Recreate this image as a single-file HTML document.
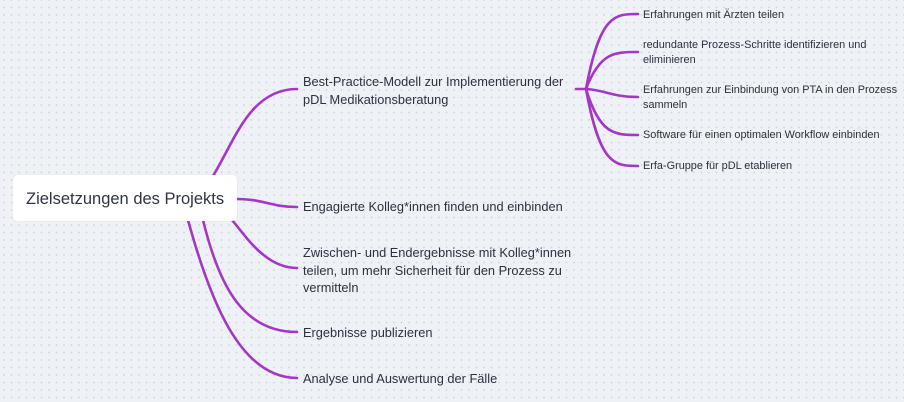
<!DOCTYPE html>
<html><head><meta charset="utf-8"><style>
html,body{margin:0;padding:0;}
body{width:904px;height:402px;overflow:hidden;position:relative;background-color:#eef2f6;
background-image:radial-gradient(circle at center,#ccd2da 0.7px,rgba(0,0,0,0) 1.0px);
background-size:7.5px 7.5px;background-position:0.25px -3.75px;
font-family:"Liberation Sans","DejaVu Sans",sans-serif;color:#2b313d;}
svg{position:absolute;left:0;top:0;}
.box{position:absolute;left:13px;top:175px;width:224px;height:46px;background:#fff;border-radius:5px;box-shadow:0 0 2px rgba(0,0,0,0.05);}
.box span{position:absolute;left:13px;top:13px;font-size:16.5px;line-height:22px;white-space:nowrap;color:#2f3542;}
.m{position:absolute;left:303px;font-size:12.8px;line-height:17.5px;white-space:nowrap;}
.s{position:absolute;left:643px;font-size:10.9px;line-height:15.3px;white-space:nowrap;}
</style></head><body>
<svg width="904" height="402" viewBox="0 0 904 402" fill="none" stroke="#a436c8" stroke-width="2.6" stroke-linecap="round">
<path d="M213 176 C235 140 250 89 297 89"/>
<path d="M236 199 C265 199 270 207 297 207"/>
<path d="M232 220 C245 235 265 268 297 268"/>
<path d="M203 220 C220 290 245 332 297 332"/>
<path d="M188 220 C210 300 240 378 297 378"/>
<path d="M576 89 L588 89"/>
<path d="M586 89 C600 14 615 14 638 14"/>
<path d="M586 89 C600 52 615 52 638 52"/>
<path d="M586 89 C605 90 612 97 638 97"/>
<path d="M586 89 C600 135 615 135 638 135"/>
<path d="M586 89 C600 166 615 166 638 166"/>
</svg>
<div class="box"><span>Zielsetzungen des Projekts</span></div>
<div class="m" style="top:73px">Best-Practice-Modell zur Implementierung der<br>pDL Medikationsberatung</div>
<div class="m" style="top:198px">Engagierte Kolleg*innen finden und einbinden</div>
<div class="m" style="top:244px">Zwischen- und Endergebnisse mit Kolleg*innen<br>teilen, um mehr Sicherheit für den Prozess zu<br>vermitteln</div>
<div class="m" style="top:324px">Ergebnisse publizieren</div>
<div class="m" style="top:369.5px">Analyse und Auswertung der Fälle</div>
<div class="s" style="top:7.5px">Erfahrungen mit Ärzten teilen</div>
<div class="s" style="top:37.5px">redundante Prozess-Schritte identifizieren und<br>eliminieren</div>
<div class="s" style="top:83px">Erfahrungen zur Einbindung von PTA in den Prozess<br>sammeln</div>
<div class="s" style="top:128px">Software für einen optimalen Workflow einbinden</div>
<div class="s" style="top:158.5px">Erfa-Gruppe für pDL etablieren</div>
</body></html>
